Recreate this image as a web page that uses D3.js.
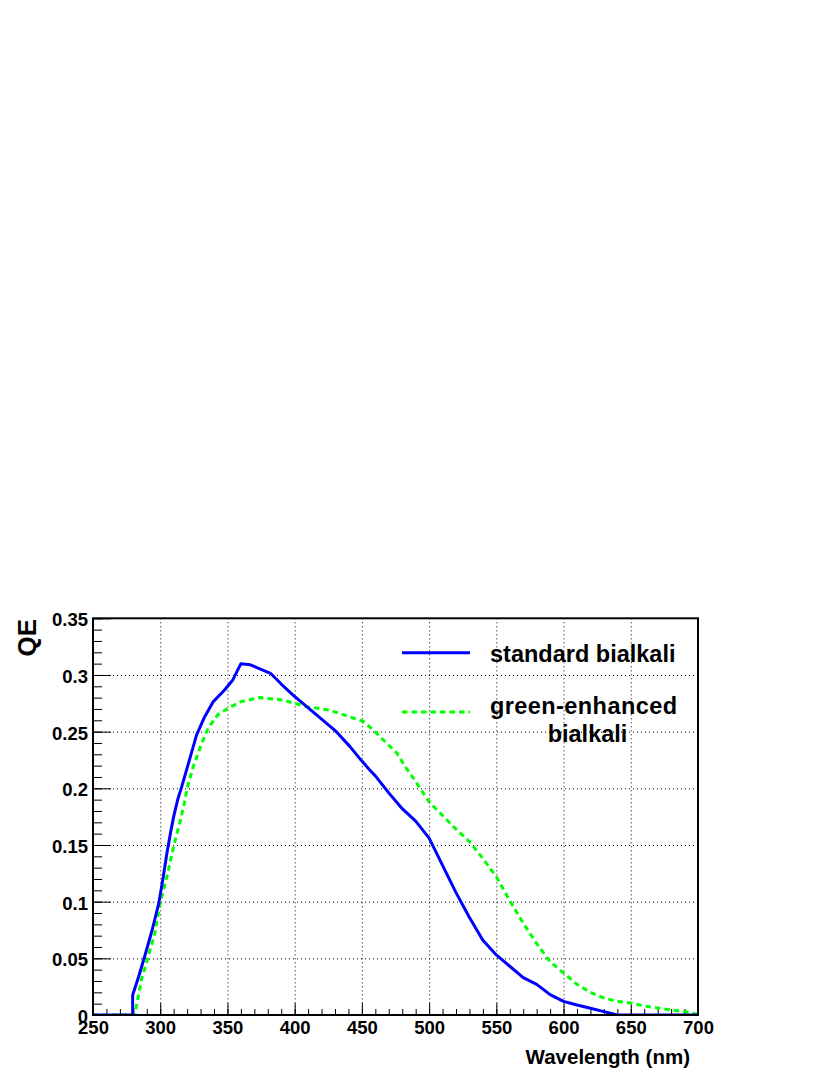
<!DOCTYPE html>
<html>
<head>
<meta charset="utf-8">
<script src="https://cdn.jsdelivr.net/npm/d3@7"></script>
<style>
  html, body { margin: 0; padding: 0; background: #fff; }
  svg { display: block; }
  text { font-family: "Liberation Sans", Arial, Helvetica, sans-serif; font-weight: bold; fill: #000; }
</style>
</head>
<body>
<svg id="chart" width="830" height="1075"></svg>
<script>
// ---- data ----
const blueWl = [250, 279.5, 279.5, 284, 289, 294, 299, 302, 305, 308, 310, 313, 316, 321, 327, 333, 339.5, 348, 354, 360, 367, 382, 390, 399, 409, 420, 431, 441, 450, 456, 460, 470, 480, 490, 500, 510, 520, 530, 540, 550, 560, 570, 580, 590, 600, 610, 620, 630, 640, 700];
const blueQE = [0, 0, 0.0176, 0.034, 0.054, 0.075, 0.099, 0.12, 0.143, 0.163, 0.175, 0.19, 0.2015, 0.222, 0.247, 0.263, 0.2765, 0.287, 0.2956, 0.31, 0.309, 0.3015, 0.292, 0.282, 0.272, 0.261, 0.25, 0.237, 0.224, 0.216, 0.211, 0.196, 0.182, 0.171, 0.156, 0.132, 0.108, 0.086, 0.066, 0.053, 0.043, 0.033, 0.027, 0.018, 0.012, 0.0088, 0.006, 0.003, 0, 0];
const greenWl = [250, 281, 286, 291, 296, 300, 305, 310, 315, 318, 320, 324.5, 331, 336, 343, 351, 360, 374, 391, 409, 426, 441, 451, 458.5, 466, 476, 483, 490, 500, 510, 520, 530, 540, 550, 560, 570, 580, 590, 600, 610, 620, 630, 640, 650, 660, 670, 680, 690, 700];
const greenQE = [0, 0, 0.031, 0.0515, 0.072, 0.099, 0.122, 0.149, 0.172, 0.187, 0.2, 0.219, 0.24, 0.254, 0.265, 0.271, 0.2765, 0.28, 0.278, 0.272, 0.269, 0.263, 0.259, 0.2515, 0.2426, 0.231, 0.2177, 0.206, 0.188, 0.176, 0.164, 0.153, 0.138, 0.122, 0.101, 0.081, 0.063, 0.047, 0.037, 0.027, 0.02, 0.015, 0.012, 0.0105, 0.008, 0.0062, 0.0045, 0.003, 0.0005];
const seriesNames = ["standard bialkali", ["green-enhanced", "bialkali"]];
const xTicks = [250, 300, 350, 400, 450, 500, 550, 600, 650, 700];
const xTickLabels = ["250", "300", "350", "400", "450", "500", "550", "600", "650", "700"];
const yTicks = [0, 0.05, 0.1, 0.15, 0.2, 0.25, 0.3, 0.35];
const yTickLabels = ["0", "0.05", "0.1", "0.15", "0.2", "0.25", "0.3", "0.35"];
const xMinorTicks = d3.range(250, 701, 10);
const yMinorTicks = d3.range(0, 36, 1).map(v => v / 100);
const xTitle = "Wavelength (nm)";
const yTitle = "QE";

// ---- layout ----
const L = 93, R = 698, T = 618.3, B = 1015;
const svg = d3.select("#chart");
const x = d3.scaleLinear().domain([250, 700]).range([L, R]);
const y = d3.scaleLinear().domain([0, 0.35]).range([B, T]);

// grid
const grid = svg.append("g").attr("stroke", "#000").attr("stroke-width", 1).attr("stroke-dasharray", "1,3");
grid.selectAll("line.v").data(xTicks.slice(1, -1)).join("line")
  .attr("x1", d => x(d) + 0.5).attr("x2", d => x(d) + 0.5).attr("y1", T).attr("y2", B);
grid.selectAll("line.h").data(yTicks.slice(1, -1)).join("line")
  .attr("x1", L).attr("x2", R).attr("y1", d => y(d) + 0.5).attr("y2", d => y(d) + 0.5);

// axes (ticks inside)
const fmtX = d => xTickLabels[xTicks.indexOf(d)];
const fmtY = d => yTickLabels[yTicks.indexOf(d)];
const xMinor = svg.append("g").attr("transform", `translate(0,${B})`)
  .call(d3.axisBottom(x).tickValues(xMinorTicks).tickSize(-6).tickFormat(""));
const xMajor = svg.append("g").attr("transform", `translate(0,${B})`)
  .call(d3.axisBottom(x).tickValues(xTicks).tickSize(-12).tickPadding(6).tickFormat(fmtX));
const yMinor = svg.append("g").attr("transform", `translate(${L},0)`)
  .call(d3.axisLeft(y).tickValues(yMinorTicks).tickSize(-9).tickFormat(""));
const yMajor = svg.append("g").attr("transform", `translate(${L},0)`)
  .call(d3.axisLeft(y).tickValues(yTicks).tickSize(-18).tickPadding(5).tickFormat(fmtY));
[xMinor, xMajor, yMinor, yMajor].forEach(g => {
  g.select(".domain").remove();
  g.selectAll(".tick line").attr("stroke", "#000").attr("stroke-width", 1);
  g.selectAll("text").style("font-size", "18.5px").attr("font-family", null).attr("font-size", null);
});
yMajor.selectAll("text").attr("dy", "0.4em");

// curves
const clip = svg.append("clipPath").attr("id", "plotclip").append("rect")
  .attr("x", L).attr("y", T - 2).attr("width", R - L).attr("height", B - T + 2);
const line = d3.line().x(d => x(d[0])).y(d => y(d[1]));
const blueData = blueWl.map((w, i) => [w, blueQE[i]]);
const greenData = greenWl.map((w, i) => [w, greenQE[i]]);
const plot = svg.append("g").attr("clip-path", "url(#plotclip)");
plot.append("path").datum(greenData).attr("d", line)
  .attr("fill", "none").attr("stroke", "#00ff00").attr("stroke-width", 3).attr("stroke-dasharray", "5.5,4");
plot.append("path").datum(blueData).attr("d", line)
  .attr("fill", "none").attr("stroke", "#0000ff").attr("stroke-width", 3).attr("stroke-linejoin", "round");

// frame
svg.append("rect").attr("x", L).attr("y", T).attr("width", R - L).attr("height", B - T)
  .attr("fill", "none").attr("stroke", "#000").attr("stroke-width", 2);

// legend
svg.append("line").attr("x1", 402).attr("x2", 470).attr("y1", 652.7).attr("y2", 652.7)
  .attr("stroke", "#0000ff").attr("stroke-width", 3);
svg.append("line").attr("x1", 402).attr("x2", 470).attr("y1", 712).attr("y2", 712)
  .attr("stroke", "#00ff00").attr("stroke-width", 3).attr("stroke-dasharray", "5.5,4");
svg.append("text").attr("x", 490).attr("y", 661.5).style("font-size", "23.5px").text(seriesNames[0]);
svg.append("text").attr("x", 490).attr("y", 713.5).style("font-size", "23.5px")
  .attr("textLength", 187).attr("lengthAdjust", "spacing").text(seriesNames[1][0]);
svg.append("text").attr("x", 587.5).attr("y", 742).attr("text-anchor", "middle").style("font-size", "23.5px").text(seriesNames[1][1]);

// titles
svg.append("text").attr("x", 690).attr("y", 1063.5).attr("text-anchor", "end").style("font-size", "20.5px").text(xTitle);
svg.append("text").attr("transform", "translate(36,619) rotate(-90)").attr("text-anchor", "end")
  .style("font-size", "26px").text(yTitle);
</script>
</body>
</html>
